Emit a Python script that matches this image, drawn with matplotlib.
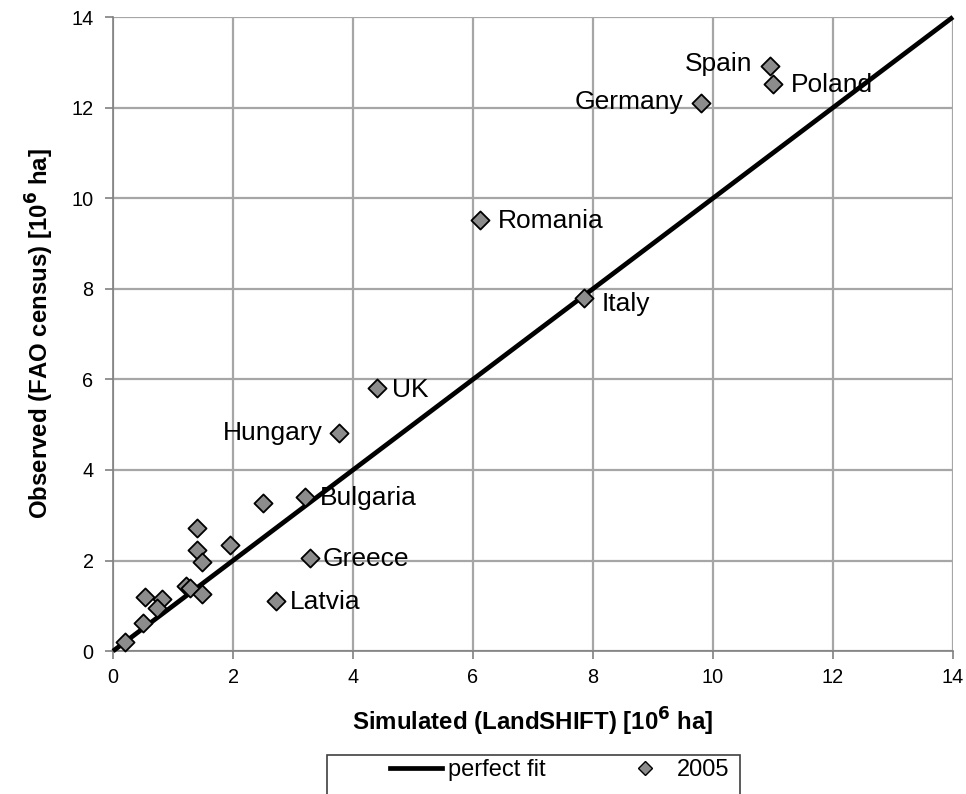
import matplotlib
matplotlib.use("Agg")
import matplotlib.pyplot as plt
from matplotlib.lines import Line2D
from matplotlib.patches import Rectangle

plt.rcParams["font.family"] = ["Liberation Sans", "DejaVu Sans"]

# simulated (x) vs observed (y), 10^6 ha
sim = [10.95, 11.0, 9.8, 6.12, 7.85, 4.4, 3.77, 3.2, 2.5, 3.28, 2.72,
       1.4, 1.95, 1.4, 1.48, 1.22, 1.28, 1.48, 0.53, 0.82, 0.73, 0.5, 0.2]
obs = [12.93, 12.52, 12.1, 9.52, 7.79, 5.8, 4.82, 3.4, 3.28, 2.06, 1.11,
       2.71, 2.35, 2.24, 1.96, 1.43, 1.4, 1.26, 1.19, 1.15, 0.95, 0.62, 0.2]
names = ["Spain", "Poland", "Germany", "Romania", "Italy", "UK", "Hungary",
         "Bulgaria", "", "Greece", "Latvia"]
# label offsets in points (dx, dy, ha)
offsets = [(-13, 1, "right"), (13, -1, "left"), (-13, 1, "right"),
           (13, -1, "left"), (13, -4, "left"), (11, -1, "left"),
           (-12, 0, "right"), (11, -1, "left"), None, (9, -1, "left"),
           (10, -1, "left")]

fig = plt.figure(figsize=(9.66, 7.94), dpi=100)
ax = fig.add_axes([0.117, 0.180, 0.8695, 0.7985])

ax.set_xlim(0, 14)
ax.set_ylim(0, 14)
ax.set_xticks(range(0, 15, 2))
ax.set_yticks(range(0, 15, 2))
ax.grid(True, color="#a6a6a6", linewidth=1.6, zorder=0)
ax.set_axisbelow(True)
for s in ["top", "right"]:
    ax.spines[s].set_visible(False)
for s in ["left", "bottom"]:
    ax.spines[s].set_color("#808080")
    ax.spines[s].set_linewidth(1.2)
ax.tick_params(axis="both", labelsize=14.3, length=6, color="#808080", width=1.2)
ax.tick_params(axis="y", pad=8)
ax.tick_params(axis="x", pad=6)

ax.plot([0, 14], [0, 14], color="black", linewidth=3.4, zorder=3,
        solid_capstyle="butt", clip_on=False)
ax.scatter(sim, obs, marker="D", s=85, facecolor="#8c8c8c", edgecolor="black",
           linewidth=1.3, zorder=4, clip_on=False)

for i, name in enumerate(names):
    if not name:
        continue
    dx, dy, ha = offsets[i]
    ax.annotate(name, (sim[i], obs[i]), xytext=(dx, dy), textcoords="offset points",
                ha=ha, va="center", fontsize=19, zorder=5)

ax.set_xlabel("Simulated (LandSHIFT) [10$^{\\mathbf{6}}$ ha]", fontsize=17.3,
              fontweight="bold", labelpad=14)
ax.set_ylabel("Observed (FAO census) [10$^{\\mathbf{6}}$ ha]", fontsize=17.3,
              fontweight="bold", labelpad=11)

# legend box, cut off by the bottom edge as in the source
fig.patches.append(Rectangle((327 / 966, -0.02), 413 / 966, 0.02 + 39 / 794,
                             transform=fig.transFigure, facecolor="white",
                             edgecolor="#404040", linewidth=1.2))
handles = [Line2D([], [], color="black", linewidth=3.4),
           Line2D([], [], marker="D", linestyle="none", markersize=7.5,
                  markerfacecolor="#8c8c8c", markeredgecolor="black")]
leg = fig.legend(handles, ["perfect fit", "2005"], ncol=2, loc="center left",
                 bbox_to_anchor=(390 / 966, 1 - 770 / 794), frameon=False,
                 fontsize=17, handlelength=2.2, handletextpad=0.25,
                 columnspacing=3.1, borderpad=0, borderaxespad=0)

fig.savefig("out.png", dpi=100)
